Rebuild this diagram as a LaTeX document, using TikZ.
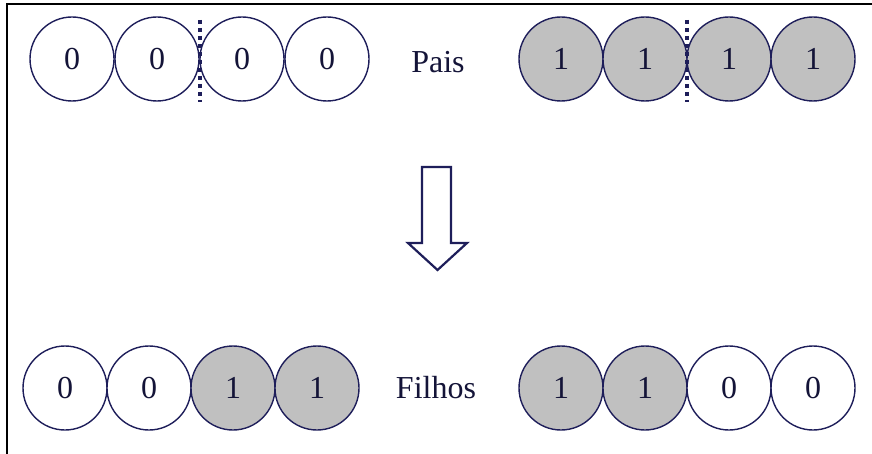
\documentclass[tikz,border=0pt]{standalone}
\usepackage{fontspec}
\setmainfont{Liberation Serif}
\definecolor{navy}{HTML}{1E1E5A}
\definecolor{bitgray}{HTML}{C0C0C0}
\definecolor{txt}{HTML}{141438}
\begin{document}
\begin{tikzpicture}[x=1pt,y=-1pt,
  bit/.style={circle,draw=navy,line width=1.4pt,minimum size=84pt,inner sep=0pt,
    text=txt,font=\fontsize{32}{38}\selectfont},
  one/.style={bit,fill=bitgray},
  zero/.style={bit,fill=white},
  lbl/.style={text=txt,font=\fontsize{32}{38}\selectfont,inner sep=0pt},
  cut/.style={navy,line width=4pt,dash pattern=on 4pt off 4pt},
  frameline/.style={black,line width=1.8pt}]
\useasboundingbox (0,0) rectangle (872,454);
% frame
\coordinate (fb) at (7,456);
\coordinate (fc) at (7,4);
\coordinate (fr) at (874,4);
\draw[frameline] (fb) -- (fc) -- (fr);
% parents
\node[zero] (a1) at (72,59) {0};
\node[zero] (a2) at (157,59) {0};
\node[zero] (a3) at (242,59) {0};
\node[zero] (a4) at (327,59) {0};
\node[lbl] (pais) at (438,62) {Pais};
\node[one] (b1) at (561,59) {1};
\node[one] (b2) at (645,59) {1};
\node[one] (b3) at (729,59) {1};
\node[one] (b4) at (813,59) {1};
\coordinate (ct1) at (200,20);
\coordinate (cb1) at (200,102);
\coordinate (ct2) at (687,20);
\coordinate (cb2) at (687,102);
\draw[cut] (ct1) -- (cb1);
\draw[cut] (ct2) -- (cb2);
% arrow
\draw[navy,line width=2.2pt,fill=white,line join=miter]
  (422,167) -- (451,167) -- (451,243) -- (467,243) -- (437.5,270) -- (408,243) -- (422,243) -- cycle;
% children
\node[zero] (c1) at (65,388) {0};
\node[zero] (c2) at (149,388) {0};
\node[one] (c3) at (233,388) {1};
\node[one] (c4) at (317,388) {1};
\node[lbl] (filhos) at (436,388) {Filhos};
\node[one] (d1) at (561,388) {1};
\node[one] (d2) at (645,388) {1};
\node[zero] (d3) at (729,388) {0};
\node[zero] (d4) at (813,388) {0};
\end{tikzpicture}
\end{document}
